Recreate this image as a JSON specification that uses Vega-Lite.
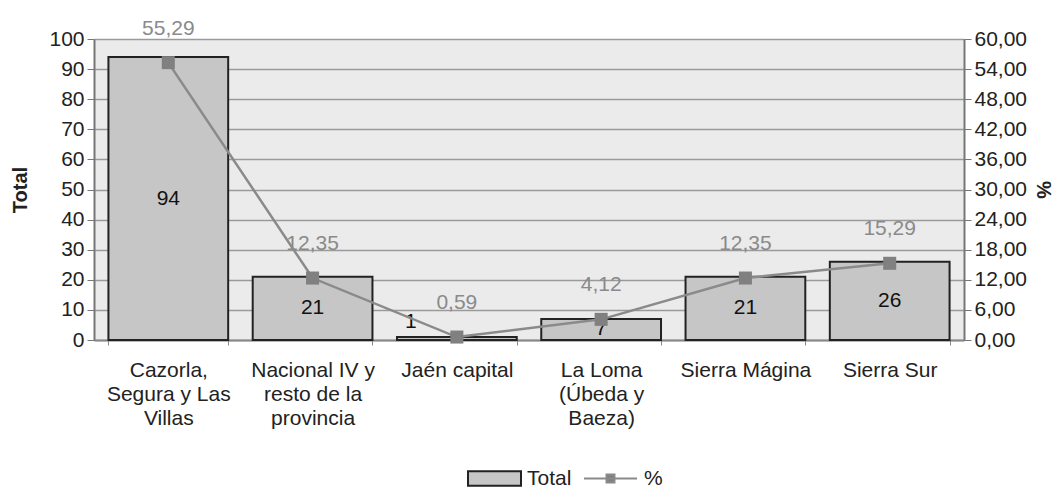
{
  "$schema": "https://vega.github.io/schema/vega-lite/v6.json",
  "width": 870,
  "height": 301,
  "autosize": {"type": "none"},
  "padding": {"left": 94, "top": 39, "right": 97, "bottom": 149},
  "background": "#ffffff",
  "config": {
    "font": "Liberation Sans",
    "view": {"fill": "#ebebeb", "stroke": null}
  },
  "data": {
    "values": [
      {"zona": "Cazorla, Segura y Las Villas", "Total": 94, "pct": 55.29},
      {"zona": "Nacional IV y resto de la provincia", "Total": 21, "pct": 12.35},
      {"zona": "Jaén capital", "Total": 1, "pct": 0.59},
      {"zona": "La Loma (Úbeda y Baeza)", "Total": 7, "pct": 4.12},
      {"zona": "Sierra Mágina", "Total": 21, "pct": 12.35},
      {"zona": "Sierra Sur", "Total": 26, "pct": 15.29}
    ]
  },
  "transform": [
    {"calculate": "datum.Total / 2", "as": "mid"},
    {"calculate": "replace(format(datum.pct, '.2f'), '.', ',')", "as": "pctLabel"}
  ],
  "encoding": {
    "x": {
      "field": "zona",
      "type": "nominal",
      "sort": null,
      "scale": {"paddingInner": 0.17, "paddingOuter": 0.1},
      "axis": {
        "title": null,
        "labelAngle": 0,
        "labelFontSize": 21,
        "labelColor": "#222222",
        "labelLineHeight": 24,
        "labelPadding": 25,
        "labelBaseline": "middle",
        "tickBand": "extent",
        "tickSize": 5,
        "tickColor": "#888888",
        "domainColor": "#888888",
        "domainWidth": 2,
        "labelExpr": "datum.value == 'Cazorla, Segura y Las Villas' ? ['Cazorla,', 'Segura y Las', 'Villas'] : datum.value == 'Nacional IV y resto de la provincia' ? ['Nacional IV y', 'resto de la', 'provincia'] : datum.value == 'La Loma (Úbeda y Baeza)' ? ['La Loma', '(Úbeda y', 'Baeza)'] : datum.value"
      }
    }
  },
  "layer": [
    {
      "mark": {"type": "bar", "stroke": "#222222", "strokeWidth": 2},
      "encoding": {
        "y": {
          "field": "Total",
          "type": "quantitative",
          "scale": {"domain": [0, 100]},
          "axis": {
            "title": "Total",
            "titleFontSize": 20,
            "titleFontWeight": "bold",
            "titleColor": "#222222",
            "titlePadding": 18,
            "values": [0, 10, 20, 30, 40, 50, 60, 70, 80, 90, 100],
            "labelFontSize": 21,
            "labelColor": "#222222",
            "labelPadding": 3,
            "tickSize": 7,
            "tickColor": "#777777",
            "domainColor": "#777777",
            "domainWidth": 2,
            "gridColor": "#9a9a9a",
            "gridWidth": 1.5
          }
        },
        "fill": {
          "datum": "Total",
          "type": "nominal",
          "scale": {"domain": ["Total"], "range": ["#c6c6c6"]},
          "legend": {
            "title": null,
            "orient": "none",
            "direction": "horizontal",
            "legendX": 373,
            "legendY": 412,
            "symbolSize": 2809,
            "symbolType": "M-1,-0.27H1V0.27H-1Z",
            "symbolStrokeColor": "#222222",
            "symbolStrokeWidth": 2,
            "symbolOpacity": 1,
            "labelFontSize": 21,
            "labelColor": "#222222",
            "labelOffset": 5
          }
        }
      }
    },
    {
      "transform": [{"filter": "datum.Total >= 3"}],
      "mark": {"type": "text", "fontSize": 21, "color": "#111111", "baseline": "middle"},
      "encoding": {
        "y": {"field": "mid", "type": "quantitative", "scale": {"domain": [0, 100]}, "axis": null},
        "text": {"field": "Total", "type": "quantitative"}
      }
    },
    {
      "transform": [{"filter": "datum.Total < 3"}],
      "mark": {"type": "text", "fontSize": 21, "color": "#111111", "baseline": "middle", "dx": -46, "dy": -16},
      "encoding": {
        "y": {"field": "mid", "type": "quantitative", "scale": {"domain": [0, 100]}, "axis": null},
        "text": {"field": "Total", "type": "quantitative"}
      }
    },
    {
      "mark": {"type": "line", "strokeWidth": 2.5},
      "encoding": {
        "y": {
          "field": "pct",
          "type": "quantitative",
          "scale": {"domain": [0, 60]},
          "axis": {
            "orient": "right",
            "title": "%",
            "titleFontSize": 20,
            "titleFontWeight": "bold",
            "titleColor": "#222222",
            "titlePadding": 6,
            "values": [0, 6, 12, 18, 24, 30, 36, 42, 48, 54, 60],
            "labelExpr": "replace(format(datum.value, '.2f'), '.', ',')",
            "labelFontSize": 21,
            "labelColor": "#222222",
            "labelPadding": 3,
            "tickSize": 7,
            "tickColor": "#777777",
            "domainColor": "#777777",
            "domainWidth": 2,
            "grid": false
          }
        },
        "stroke": {
          "datum": "%",
          "type": "nominal",
          "scale": {"domain": ["%"], "range": ["#8a8a8a"]},
          "legend": {
            "title": null,
            "orient": "none",
            "direction": "horizontal",
            "legendX": 489,
            "legendY": 412,
            "symbolSize": 2809,
            "symbolType": "M-1,0H1M-0.15,-0.15H0.15V0.15H-0.15Z",
            "symbolFillColor": "#808080",
            "symbolStrokeColor": "#8a8a8a",
            "symbolStrokeWidth": 2,
            "symbolOpacity": 1,
            "labelFontSize": 21,
            "labelColor": "#222222",
            "labelOffset": 6
          }
        }
      }
    },
    {
      "mark": {"type": "point", "shape": "square", "filled": true, "size": 170, "opacity": 1, "color": "#808080"},
      "encoding": {
        "y": {"field": "pct", "type": "quantitative", "scale": {"domain": [0, 60]}, "axis": null}
      }
    },
    {
      "mark": {"type": "text", "fontSize": 21, "color": "#8a8a8a", "baseline": "middle", "dy": -34},
      "encoding": {
        "y": {"field": "pct", "type": "quantitative", "scale": {"domain": [0, 60]}, "axis": null},
        "text": {"field": "pctLabel", "type": "nominal"}
      }
    }
  ],
  "resolve": {"scale": {"y": "independent", "fill": "independent", "stroke": "independent"}}
}
